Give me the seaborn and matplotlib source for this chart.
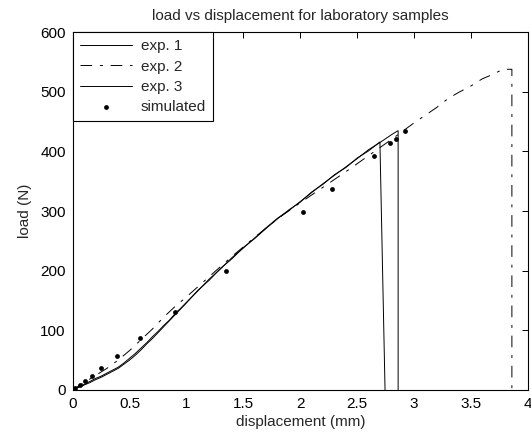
import seaborn as sns
import pandas as pd
import matplotlib.pyplot as plt

sns.set_style("white")
plt.rcParams["font.family"] = ["Liberation Sans", "DejaVu Sans"]

# exp. 1 - solid, fails at ~2.86 mm
x1 = [0, 0.05, 0.1, 0.15, 0.2, 0.25, 0.3, 0.35, 0.4, 0.45, 0.5, 0.55, 0.6, 0.65, 0.7, 0.75, 0.8, 0.85, 0.9,
      0.95, 1.0, 1.1, 1.2, 1.3, 1.4, 1.5, 1.6, 1.7, 1.8, 1.9, 2.0, 2.1, 2.2, 2.3, 2.4, 2.5, 2.6, 2.7, 2.8,
      2.86, 2.86]
y1 = [0, 5, 9, 14, 19, 23, 28, 33, 38, 45, 53, 61, 70, 79, 89, 98, 108, 117, 128,
      137, 147, 166, 186, 203, 222, 238, 255, 272, 288, 301, 316, 331, 346, 360, 374, 388, 403, 415, 428,
      435, 0]

# exp. 2 - dash-dot, fails at ~3.86 mm
x2 = [0, 0.1, 0.2, 0.3, 0.4, 0.5, 0.6, 0.7, 0.8, 0.9, 1.0, 1.2, 1.4, 1.6, 1.8, 2.0, 2.2, 2.4, 2.6,
      2.8, 3.0, 3.1, 3.2, 3.3, 3.4, 3.5, 3.6, 3.7, 3.78, 3.86, 3.86]
y2 = [0, 12, 24, 36, 50, 66, 84, 102, 122, 140, 156, 190, 224, 256, 287, 314, 340, 366, 393,
      420, 448, 461, 474, 489, 500, 510, 522, 530, 538, 538, 0]

# exp. 3 - solid, fails at ~2.70 mm
x3 = [0, 0.05, 0.1, 0.15, 0.2, 0.25, 0.3, 0.35, 0.4, 0.45, 0.5, 0.55, 0.6, 0.65, 0.7, 0.75, 0.8, 0.85, 0.9,
      0.95, 1.0, 1.1, 1.2, 1.3, 1.4, 1.5, 1.6, 1.7, 1.8, 1.9, 2.0, 2.1, 2.2, 2.3, 2.4, 2.5, 2.6, 2.7,
      2.745]
y3 = [0, 4, 8, 12, 17, 21, 26, 31, 36, 43, 50, 58, 67, 77, 86, 96, 106, 116, 126,
      136, 146, 167, 184, 204, 220, 239, 254, 271, 287, 302, 315, 332, 345, 361, 373, 389, 401, 416,
      0]

# simulated
xs = [0.0, 0.02, 0.06, 0.11, 0.17, 0.25, 0.39, 0.59, 0.90, 1.35, 2.02, 2.28, 2.65, 2.79, 2.84, 2.92]
ys = [0, 3, 8, 15, 23, 37, 57, 87, 131, 199, 299, 337, 393, 415, 421, 435]

fig = plt.figure(figsize=(5.31, 4.37), dpi=100)
ax = fig.add_axes([0.137, 0.108, 0.857, 0.818])

exp1 = pd.DataFrame({"d": x1, "load": y1})
exp2 = pd.DataFrame({"d": x2, "load": y2})
exp3 = pd.DataFrame({"d": x3, "load": y3})
sim = pd.DataFrame({"d": xs, "load": ys})

sns.lineplot(data=exp1, x="d", y="load", sort=False, estimator=None, color="black", lw=0.7,
             label="exp. 1", ax=ax)
sns.lineplot(data=exp2, x="d", y="load", sort=False, estimator=None, color="black", lw=0.7,
             linestyle=(0, (12, 8, 3, 8)), label="exp. 2", ax=ax)
sns.lineplot(data=exp3, x="d", y="load", sort=False, estimator=None, color="black", lw=0.7,
             label="exp. 3", ax=ax)
sns.scatterplot(data=sim, x="d", y="load", color="black", s=12, edgecolor="black", linewidth=0,
                label="simulated", ax=ax)

ax.set_xlim(0, 4)
ax.set_ylim(0, 600)
ax.set_xticks([0, 0.5, 1, 1.5, 2, 2.5, 3, 3.5, 4])
ax.set_xticklabels(["0", "0.5", "1", "1.5", "2", "2.5", "3", "3.5", "4"])
ax.set_yticks([0, 100, 200, 300, 400, 500, 600])
ax.tick_params(direction="in", length=4, width=0.7, top=True, right=True, labelsize=11, pad=5,
               colors="black")
for s in ax.spines.values():
    s.set_color("black")
    s.set_linewidth(0.8)

ax.set_title("load vs displacement for laboratory samples", fontsize=11, pad=9)
ax.set_xlabel("displacement (mm)", fontsize=11, labelpad=3)
ax.set_ylabel("load (N)", fontsize=11, labelpad=6)

leg = ax.legend(loc="upper left", borderaxespad=0, fancybox=False, framealpha=1, edgecolor="black",
                fontsize=11, handlelength=3.4, handletextpad=0.6, borderpad=0.45, labelspacing=0.42,
                markerscale=1)
leg.get_frame().set_linewidth(0.8)

plt.savefig("out.png", dpi=100)
